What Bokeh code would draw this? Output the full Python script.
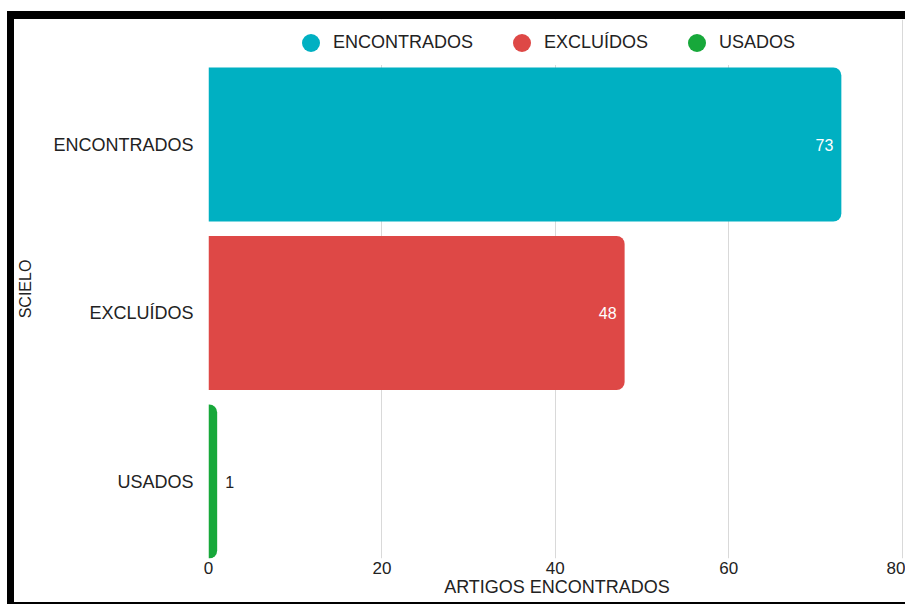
from bokeh.plotting import figure
from bokeh.models import (Range1d, Legend, LegendItem, ColumnDataSource, FixedTicker,
                          CDSView, IndexFilter, Spacer)
from bokeh.layouts import row, column
from bokeh.embed import file_html
from bokeh.resources import INLINE
from bokeh.core.properties import value

categories = ["ENCONTRADOS", "EXCLUÍDOS", "USADOS"]
counts = [73, 48, 1]
colors = ["#00B0C2", "#DE4846", "#17A83A"]
x_ticks = [0, 20, 40, 60, 80]
x_title = "ARTIGOS ENCONTRADOS"
y_title = "SCIELO"

FONT = "Liberation Sans"
TXT = "#222222"

n = len(categories)
pos = [n - 1 - i for i in range(n)]  # first category on top

p = figure(
    width=891, height=583, title=None,
    y_range=Range1d(-0.457, 2.742),
    x_range=Range1d(0, 80.4),
    output_backend="svg", toolbar_location=None,
    min_border_left=194, min_border_right=0, min_border_top=0, min_border_bottom=44,
)

src = ColumnDataSource(dict(pos=pos, cat=categories, count=counts, color=colors))

# legend marker renderers (size 0 on the plot; the legend draws its own circle)
items = []
for i, (c, col) in enumerate(zip(categories, colors)):
    r = p.scatter(x="count", y="pos", source=src, view=CDSView(filter=IndexFilter([i])),
                  marker="circle", size=0, fill_color=col, line_color=None)
    items.append(LegendItem(label=c, renderers=[r], index=i))

p.hbar(y="pos", left=0, right="count", height=0.914, fill_color="color",
       line_color=None, source=src, border_radius=(0, 8, 8, 0))

# value labels: inside for large bars (white), outside for small ones (dark)
inside = [c > 5 for c in counts]
lab = ColumnDataSource(dict(
    pos=pos, count=counts, txt=[str(c) for c in counts],
    col=["white" if k else TXT for k in inside],
    align=["right" if k else "left" for k in inside],
    off=[-8 if k else 8 for k in inside],
))
p.text(x="count", y="pos", text="txt", text_color="col", text_align="align",
       x_offset="off", text_baseline="middle", text_font=value(FONT),
       text_font_size="16px", source=lab)

legend = Legend(items=items, orientation="horizontal", location=(80, 493),
                glyph_width=45, glyph_height=45, label_standoff=0, spacing=26,
                padding=2, margin=0, border_line_color=None,
                background_fill_color="white", background_fill_alpha=1,
                label_text_font=FONT, label_text_font_size="18px", label_text_color=TXT)
p.add_layout(legend)

p.xaxis.ticker = FixedTicker(ticks=x_ticks)
p.yaxis.ticker = FixedTicker(ticks=pos)
p.yaxis.major_label_overrides = {k: c for k, c in zip(pos, categories)}
p.xaxis.axis_label = x_title
p.yaxis.axis_label = y_title
for ax in (p.xaxis, p.yaxis):
    ax.axis_line_color = None
    ax.major_tick_line_color = None
    ax.minor_tick_line_color = None
    ax.major_tick_out = 0
    ax.major_tick_in = 0
    ax.major_label_text_font = FONT
    ax.major_label_text_color = TXT
    ax.axis_label_text_font = FONT
    ax.axis_label_text_font_style = "normal"
    ax.axis_label_text_color = TXT
p.xaxis.major_label_text_font_size = "17px"
p.yaxis.major_label_text_font_size = "18px"
p.xaxis.axis_label_text_font_size = "18px"
p.yaxis.axis_label_text_font_size = "16px"
p.xaxis.major_label_standoff = 3
p.xaxis.axis_label_standoff = 0
p.yaxis.major_label_standoff = 15
p.yaxis.axis_label_standoff = 16

p.ygrid.grid_line_color = None
p.xgrid.grid_line_color = "#d9d9d9"
p.outline_line_color = None
p.background_fill_color = "white"
p.border_fill_color = "white"

# black frame around the chart (as in the screenshot)
BLACK = {"background-color": "black"}
inner = column(
    Spacer(width=898, height=8, styles=BLACK),
    row(Spacer(width=7, height=583, styles=BLACK), p, spacing=0),
    Spacer(width=898, height=2, styles=BLACK),
    spacing=0,
)
page = column(
    Spacer(width=905, height=11),
    row(Spacer(width=7, height=593), inner, spacing=0),
    spacing=0,
)

open("out.html", "w").write(file_html(page, INLINE))
